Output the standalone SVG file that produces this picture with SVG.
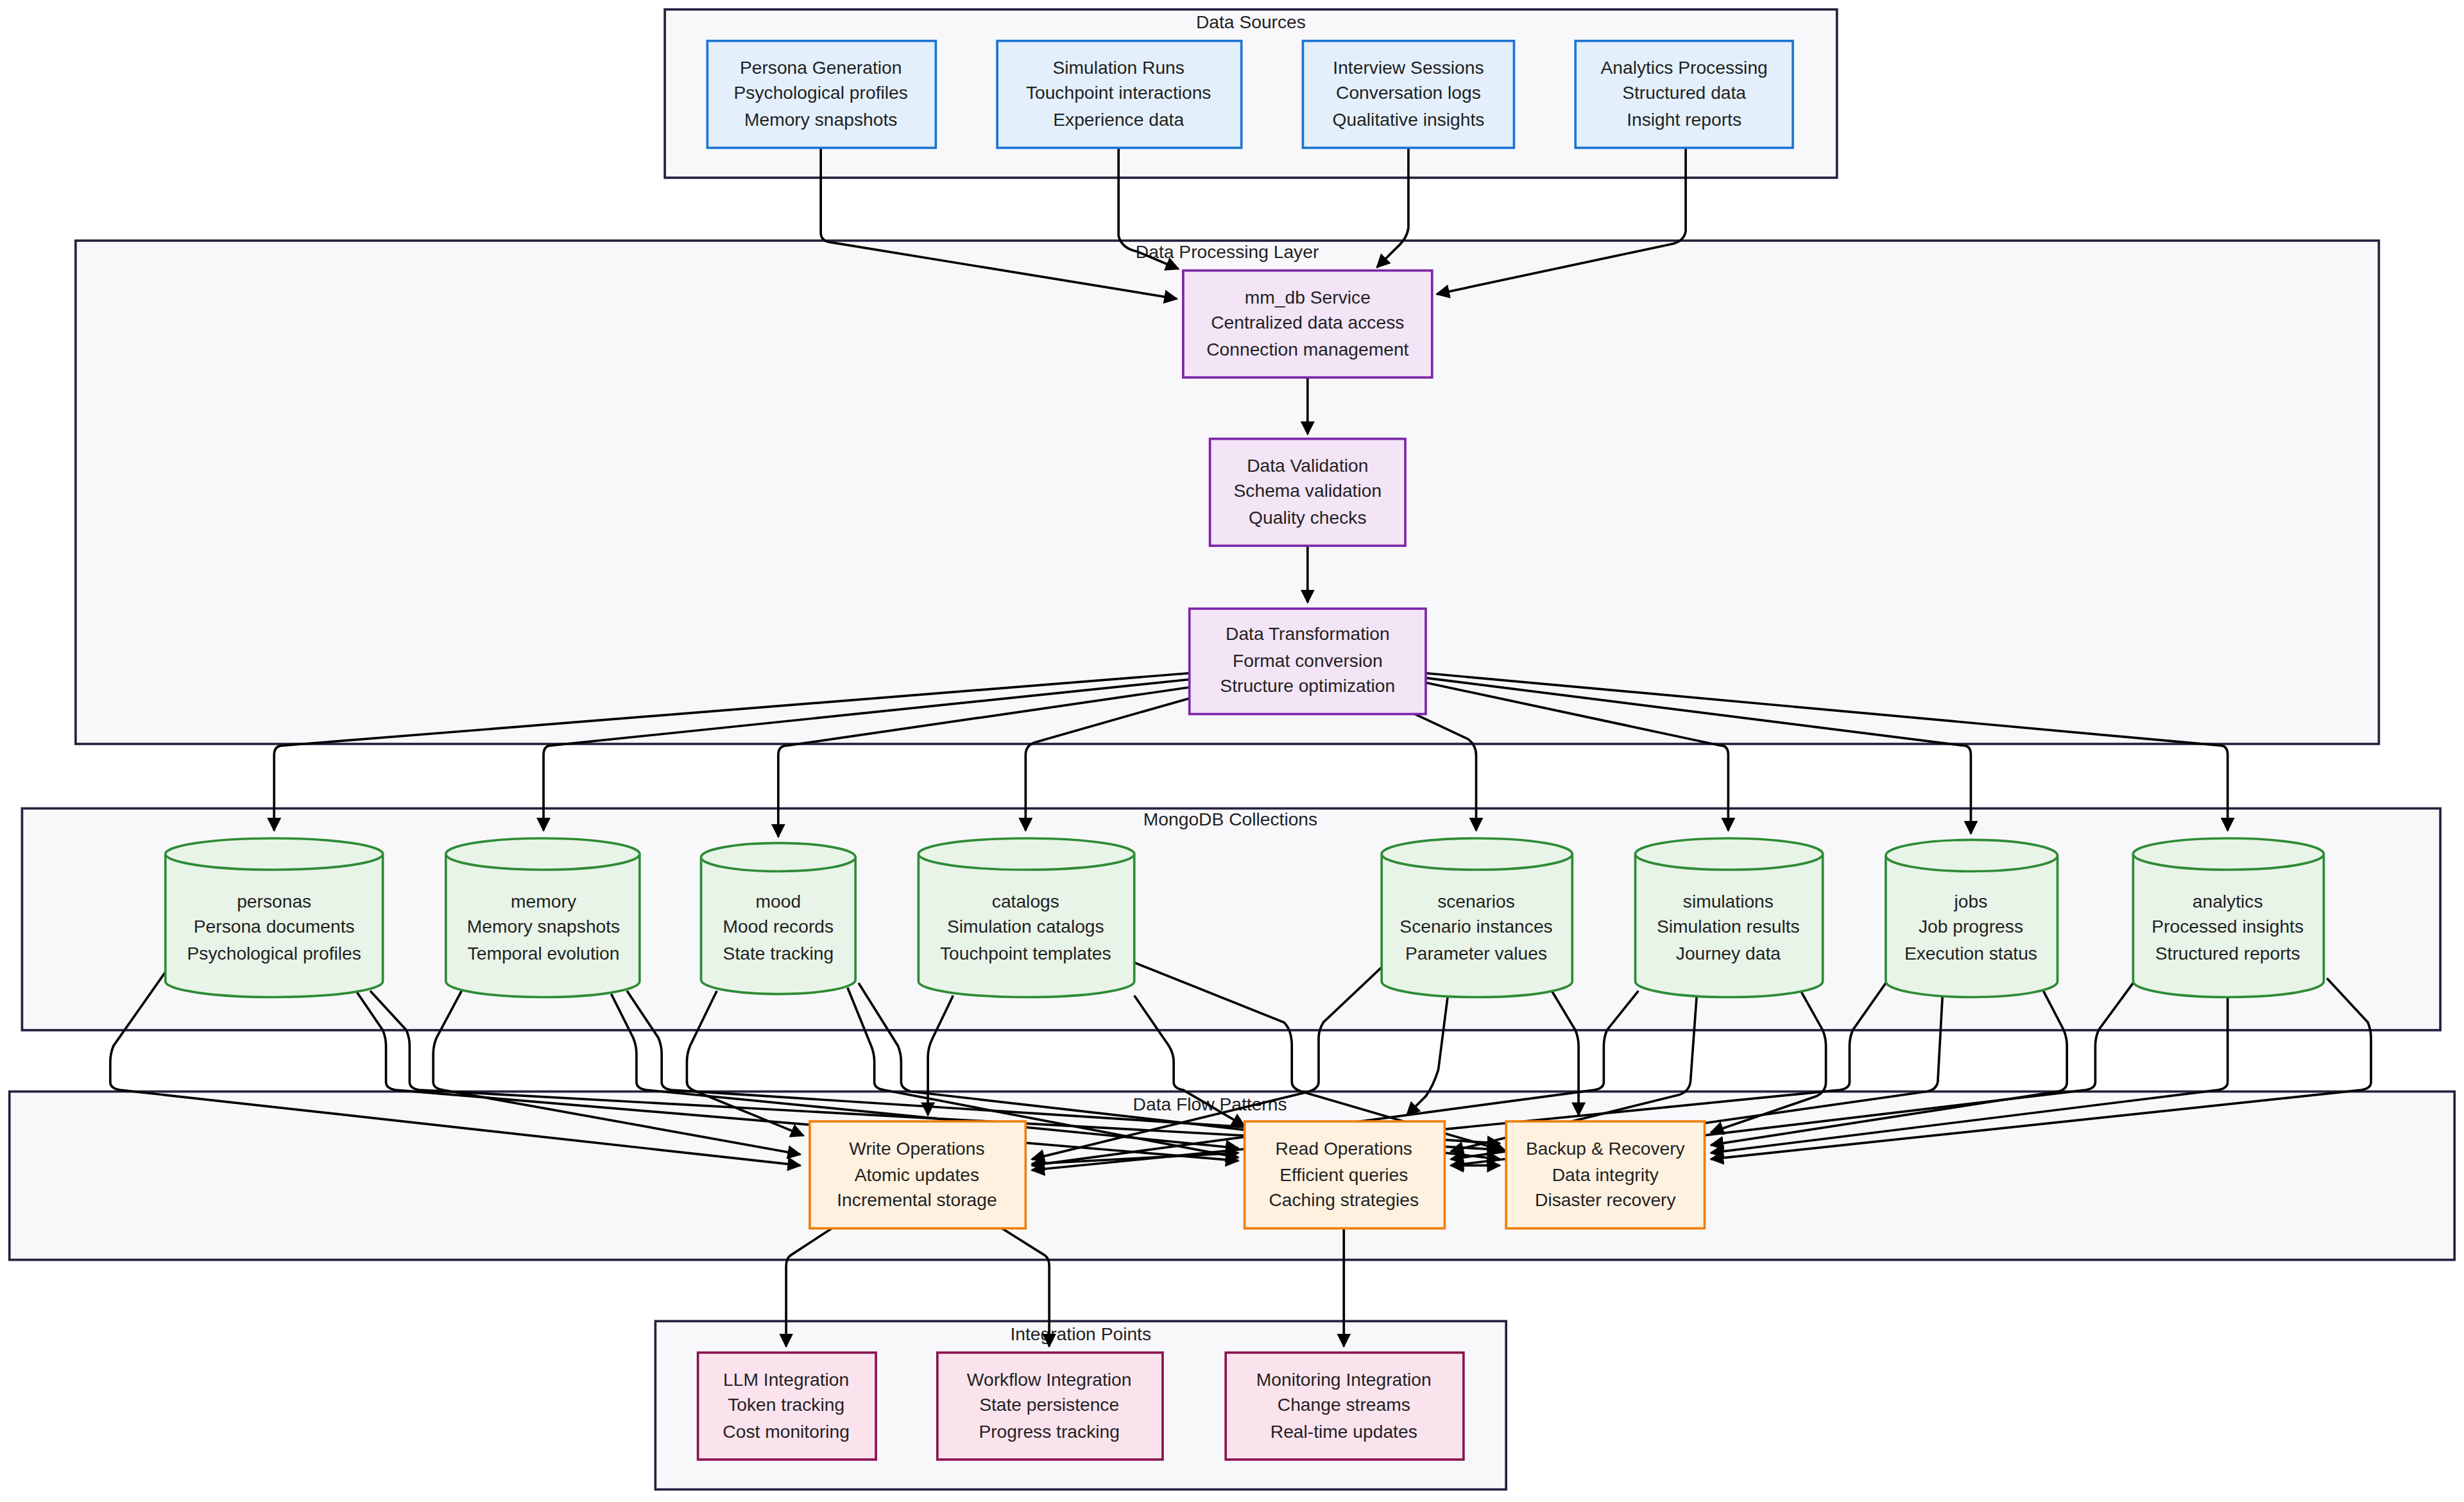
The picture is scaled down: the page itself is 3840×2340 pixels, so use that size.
<svg xmlns="http://www.w3.org/2000/svg" width="3840" height="2340" viewBox="0 0 3840 2340">
<style>
text{font-family:"Liberation Sans",Arial,sans-serif;font-size:11.5px;fill:#222;text-anchor:middle}
.cl{fill:#f8f8fb;stroke:#23233f;stroke-width:1.5}
.src{fill:#e3f0fc;stroke:#1e74d2;stroke-width:1.5}
.prc{fill:#f3e4f6;stroke:#7b26a8;stroke-width:1.5}
.col{fill:#e8f4e8;stroke:#2e8b35;stroke-width:1.5}
.flw{fill:#fef1e0;stroke:#f07f0c;stroke-width:1.5}
.int{fill:#fbe3ee;stroke:#8a1450;stroke-width:1.5}
.e path{fill:none;stroke:#000;stroke-width:1.5;marker-end:url(#a)}
</style>
<defs><marker id="a" viewBox="0 0 10 10" refX="9" refY="5" markerWidth="6" markerHeight="6" orient="auto-start-reverse"><path d="M0 0L10 5L0 10z" fill="#000"/></marker></defs>
<rect width="3840" height="2340" fill="#fff"/>
<g transform="scale(2.4552 2.4503)">
<g id="clusters">
<rect class="cl" x="422" y="6" width="744" height="107"/><text x="794" y="18">Data Sources</text>
<rect class="cl" x="48" y="153" width="1462" height="320"/><text x="779" y="164">Data Processing Layer</text>
<rect class="cl" x="14" y="514" width="1535" height="141"/><text x="781" y="525">MongoDB Collections</text>
<rect class="cl" x="6" y="694" width="1552" height="107"/><text x="768" y="706">Data Flow Patterns</text>
<rect class="cl" x="416" y="840" width="540" height="107"/><text x="686" y="852">Integration Points</text>
</g>
<g id="edges" class="e">
<path d="M521 94V148Q521 153 527 154L747 190"/>
<path d="M710 94V150Q712 158 722 160L748 171"/>
<path d="M894 94V145Q893 152 886 158L874 170"/>
<path d="M1070 94V147Q1069 153 1062 155L912 187"/>
<path d="M830 240V276"/><path d="M830 347V383"/>
<path d="M755 428L180 474Q174 474 174 480V528"/>
<path d="M755 432L350 474Q345 474 345 480V528"/>
<path d="M755 437L500 474Q494 474 494 480V532"/>
<path d="M755 444L657 472Q651 474 651 480V528"/>
<path d="M898 454L932 470Q937 474 937 480V528"/>
<path d="M905 434L1092 474Q1097 474 1097 480V528"/>
<path d="M905 431L1246 474Q1251 474 1251 480V530"/>
<path d="M905 428L1409 474Q1414 474 1414 480V528"/>
<path d="M105 618L72 665Q70 670 70 675V688Q70 692 76 693L508 741"/>
<path d="M226 630L243 655Q245 660 245 665V688Q245 692 251 693L786 738"/>
<path d="M235 630L258 655Q260 660 260 665V688Q260 692 266 693L952 731"/>
<path d="M293 630L277 660Q275 665 275 670V688Q275 692 281 693L508 734"/>
<path d="M388 632L402 660Q404 665 404 670V688Q404 692 410 693L786 730"/>
<path d="M398 630L418 660Q420 665 420 670V688Q420 692 426 693L952 727"/>
<path d="M455 630L438 665Q436 670 436 675V688Q436 692 442 694L510 722"/>
<path d="M538 628L553 665Q555 670 555 675V688Q555 692 561 693L786 736"/>
<path d="M545 625L570 665Q572 670 572 675V688Q572 692 578 694L952 737"/>
<path d="M605 633L592 660Q589 666 589 672V709"/>
<path d="M720 633L742 665Q745 670 745 675V688Q745 692 751 693L790 716"/>
<path d="M720 612L815 650Q820 655 820 665V688Q820 692 826 694L956 732"/>
<path d="M877 615L840 650Q837 655 837 660V688Q837 692 831 694L655 737"/>
<path d="M919 633L913 680Q910 690 905 697L893 709"/>
<path d="M985 630L1000 655Q1002 660 1002 665V709"/>
<path d="M1040 630L1020 655Q1018 660 1018 665V688Q1018 692 1012 693L655 741"/>
<path d="M1077 633L1073 688Q1072 694 1066 696L921 732"/>
<path d="M1143 630L1157 655Q1159 660 1159 665V688Q1159 694 1153 697L1086 720"/>
<path d="M1197 625L1176 655Q1174 660 1174 665V688Q1174 692 1168 693L655 744"/>
<path d="M1233 633L1230 688Q1229 693 1223 694L921 737"/>
<path d="M1297 630L1310 655Q1312 660 1312 665V688Q1312 693 1306 694L1086 728"/>
<path d="M1354 625L1332 655Q1330 660 1330 665V688Q1330 692 1324 693L921 741"/>
<path d="M1414 634V688Q1414 692 1408 693L1086 733"/>
<path d="M1477 622L1503 650Q1505 655 1505 660V688Q1505 692 1499 693L1086 737"/>
<path d="M655 740L786 733" marker-start="url(#a)"/>
<path d="M921 741L952 741" marker-start="url(#a)"/>
<path d="M528 781L502 798Q499 800 499 805V856"/>
<path d="M636 781L663 798Q666 800 666 805V856"/>
<path d="M853 781V856"/>
</g>
<g id="pg"><rect class="src" x="449" y="26" width="145" height="68"/><text x="521" y="47">Persona Generation</text><text x="521" y="63">Psychological profiles</text><text x="521" y="80">Memory snapshots</text></g>
<g id="sr"><rect class="src" x="633" y="26" width="155" height="68"/><text x="710" y="47">Simulation Runs</text><text x="710" y="63">Touchpoint interactions</text><text x="710" y="80">Experience data</text></g>
<g id="is"><rect class="src" x="827" y="26" width="134" height="68"/><text x="894" y="47">Interview Sessions</text><text x="894" y="63">Conversation logs</text><text x="894" y="80">Qualitative insights</text></g>
<g id="ap"><rect class="src" x="1000" y="26" width="138" height="68"/><text x="1069" y="47">Analytics Processing</text><text x="1069" y="63">Structured data</text><text x="1069" y="80">Insight reports</text></g>
<g id="mm"><rect class="prc" x="751" y="172" width="158" height="68"/><text x="830" y="193">mm_db Service</text><text x="830" y="209">Centralized data access</text><text x="830" y="226">Connection management</text></g>
<g id="dv"><rect class="prc" x="768" y="279" width="124" height="68"/><text x="830" y="300">Data Validation</text><text x="830" y="316">Schema validation</text><text x="830" y="333">Quality checks</text></g>
<g id="dt"><rect class="prc" x="755" y="387" width="150" height="67"/><text x="830" y="407">Data Transformation</text><text x="830" y="424">Format conversion</text><text x="830" y="440">Structure optimization</text></g>
<g id="c1"><path class="col" d="M105 543a69 10 0 0 1 138 0v81a69 10 0 0 1-138 0z"/><path class="col" d="M105 543a69 10 0 0 0 138 0" fill="none"/><text x="174" y="577">personas</text><text x="174" y="593">Persona documents</text><text x="174" y="610">Psychological profiles</text></g>
<g id="c2"><path class="col" d="M283 543a61.5 10 0 0 1 123 0v81a61.5 10 0 0 1-123 0z"/><path class="col" d="M283 543a61.5 10 0 0 0 123 0" fill="none"/><text x="345" y="577">memory</text><text x="345" y="593">Memory snapshots</text><text x="345" y="610">Temporal evolution</text></g>
<g id="c3"><path class="col" d="M445 545a49 9 0 0 1 98 0v78a49 9 0 0 1-98 0z"/><path class="col" d="M445 545a49 9 0 0 0 98 0" fill="none"/><text x="494" y="577">mood</text><text x="494" y="593">Mood records</text><text x="494" y="610">State tracking</text></g>
<g id="c4"><path class="col" d="M583 543a68.5 10 0 0 1 137 0v81a68.5 10 0 0 1-137 0z"/><path class="col" d="M583 543a68.5 10 0 0 0 137 0" fill="none"/><text x="651" y="577">catalogs</text><text x="651" y="593">Simulation catalogs</text><text x="651" y="610">Touchpoint templates</text></g>
<g id="c5"><path class="col" d="M877 543a60.5 10 0 0 1 121 0v81a60.5 10 0 0 1-121 0z"/><path class="col" d="M877 543a60.5 10 0 0 0 121 0" fill="none"/><text x="937" y="577">scenarios</text><text x="937" y="593">Scenario instances</text><text x="937" y="610">Parameter values</text></g>
<g id="c6"><path class="col" d="M1038 543a59.5 10 0 0 1 119 0v81a59.5 10 0 0 1-119 0z"/><path class="col" d="M1038 543a59.5 10 0 0 0 119 0" fill="none"/><text x="1097" y="577">simulations</text><text x="1097" y="593">Simulation results</text><text x="1097" y="610">Journey data</text></g>
<g id="c7"><path class="col" d="M1197 544a54.5 10 0 0 1 109 0v80a54.5 10 0 0 1-109 0z"/><path class="col" d="M1197 544a54.5 10 0 0 0 109 0" fill="none"/><text x="1251" y="577">jobs</text><text x="1251" y="593">Job progress</text><text x="1251" y="610">Execution status</text></g>
<g id="c8"><path class="col" d="M1354 543a60.5 10 0 0 1 121 0v81a60.5 10 0 0 1-121 0z"/><path class="col" d="M1354 543a60.5 10 0 0 0 121 0" fill="none"/><text x="1414" y="577">analytics</text><text x="1414" y="593">Processed insights</text><text x="1414" y="610">Structured reports</text></g>
<g id="wo"><rect class="flw" x="514" y="713" width="137" height="68"/><text x="582" y="734">Write Operations</text><text x="582" y="751">Atomic updates</text><text x="582" y="767">Incremental storage</text></g>
<g id="ro"><rect class="flw" x="790" y="713" width="127" height="68"/><text x="853" y="734">Read Operations</text><text x="853" y="751">Efficient queries</text><text x="853" y="767">Caching strategies</text></g>
<g id="br"><rect class="flw" x="956" y="713" width="126" height="68"/><text x="1019" y="734">Backup &amp; Recovery</text><text x="1019" y="751">Data integrity</text><text x="1019" y="767">Disaster recovery</text></g>
<g id="llm"><rect class="int" x="443" y="860" width="113" height="68"/><text x="499" y="881">LLM Integration</text><text x="499" y="897">Token tracking</text><text x="499" y="914">Cost monitoring</text></g>
<g id="wf"><rect class="int" x="595" y="860" width="143" height="68"/><text x="666" y="881">Workflow Integration</text><text x="666" y="897">State persistence</text><text x="666" y="914">Progress tracking</text></g>
<g id="mon"><rect class="int" x="778" y="860" width="151" height="68"/><text x="853" y="881">Monitoring Integration</text><text x="853" y="897">Change streams</text><text x="853" y="914">Real-time updates</text></g>
</g>
</svg>
